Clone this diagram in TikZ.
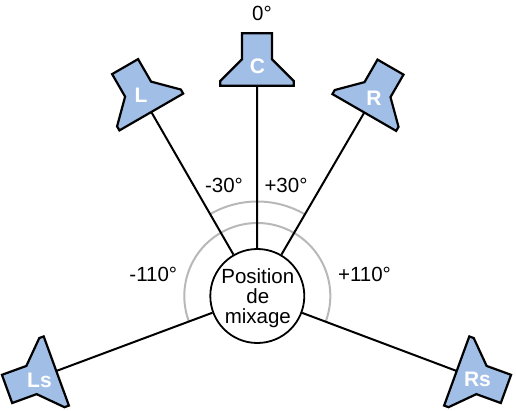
\documentclass[tikz,border=0pt]{standalone}
\usepackage{fontspec}
\setmainfont{Liberation Sans}
\definecolor{speakerblue}{HTML}{A1BFE6}
\definecolor{arcgrey}{HTML}{B8B8B8}
\tikzset{
  spkbox/.style={draw=black,fill=speakerblue,line width=2.2pt,line join=miter},
  spklabel/.style={text=white,font=\fontsize{21}{21}\selectfont\bfseries,inner sep=0pt},
  anglelabel/.style={font=\fontsize{20.5}{20.5}\selectfont,inner sep=0pt},
  wire/.style={line width=2pt},
  anglearc/.style={draw=arcgrey,line width=2pt},
  speaker/.pic={
    \draw[spkbox] (-15,52.4) -- (15,52.4) -- (15,26.4) -- (36.8,4.7) -- (36.8,0)
      -- (-36.8,0) -- (-36.8,4.7) -- (-15,26.4) -- cycle;
    \coordinate (-mouth) at (0,0);
  }
}

\begin{document}
\begin{tikzpicture}[x=1pt,y=1pt]
        \useasboundingbox (0,0) rectangle (516,410);
        \coordinate (mixcentre) at (257.3,114);
        \draw[anglearc] ([shift={(60:94.5)}]mixcentre) arc[start angle=60,end angle=120,radius=94.5];
        \draw[anglearc] ([shift={(-20:73)}]mixcentre) arc[start angle=-20,end angle=200,radius=73];
        \node[circle,draw,line width=1.8pt,minimum size=94pt,inner sep=0pt] (mix) at (mixcentre) {};
        \node[align=center,inner sep=0pt,font=\fontsize{20.5}{20}\selectfont] (mixlabel) at (257.8,112) {Position\\de\\mixage};
        \pic (spkC) at (257,324.3) {speaker};
        \pic[rotate=30] (spkL) at (151.3,298) {speaker};
        \pic[rotate=-30] (spkR) at (364.3,297.5) {speaker};
        \pic[rotate=110] (spkLs) at (56.3,39) {speaker};
        \pic[rotate=-110] (spkRs) at (456.7,39) {speaker};
        \draw[wire] (mix) -- (spkC-mouth);
        \draw[wire] (mix) -- (spkL-mouth);
        \draw[wire] (mix) -- (spkR-mouth);
        \draw[wire] (mix) -- (spkLs-mouth);
        \draw[wire] (mix) -- (spkRs-mouth);
        \node[spklabel] (labC) at (257.5,343.5) {C};
        \node[spklabel] (labL) at (141,315) {L};
        \node[spklabel] (labR) at (374,312) {R};
        \node[spklabel] (labLs) at (39.5,29.5) {Ls};
        \node[spklabel] (labRs) at (477.5,30.5) {Rs};
        \node[anglelabel] (ang0) at (262,397) {0°};
        \node[anglelabel] (angmL) at (224,225) {-30°};
        \node[anglelabel] (angpR) at (286,225) {+30°};
        \node[anglelabel] (angmLs) at (153.3,136) {-110°};
        \node[anglelabel] (angpRs) at (364.5,136) {+110°};
      \end{tikzpicture}
\end{document}
